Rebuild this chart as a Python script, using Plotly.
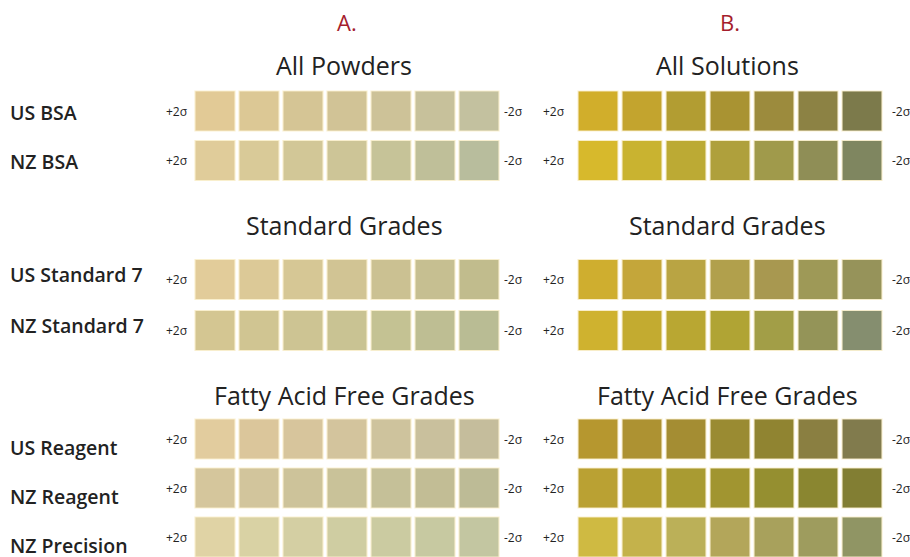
import plotly.graph_objects as go

# ---------------- data ----------------
panel_letters = ["A.", "B."]
section_titles_a = ["All Powders", "Standard Grades", "Fatty Acid Free Grades"]
section_titles_b = ["All Solutions", "Standard Grades", "Fatty Acid Free Grades"]
row_labels = [["US BSA", "NZ BSA"],
              ["US Standard 7", "NZ Standard 7"],
              ["US Reagent", "NZ Reagent", "NZ Precision"]]
sigma_left = "+2σ"
sigma_right = "-2σ"

# Panel A (powders) colours, per row, from +2σ to -2σ
colors_a = [
    ["#e2ca96", "#dcc895", "#d5c595", "#d1c396", "#cdc298", "#c7c19b", "#c3c19f"],
    ["#e0cc9a", "#d9ca98", "#d2c797", "#cdc597", "#c6c398", "#bfbf99", "#b8bd9d"],
    ["#e2cc9a", "#dcc997", "#d6c795", "#d1c494", "#cbc192", "#c6bf91", "#c1bc8d"],
    ["#d4c692", "#d0c592", "#cdc493", "#c9c393", "#c4c293", "#bebe93", "#b9bc94"],
    ["#e2cc9e", "#dbc69b", "#d7c59c", "#d3c49d", "#cec39d", "#c9c09d", "#c5bd9c"],
    ["#d5c69c", "#d2c59c", "#cdc39a", "#c9c299", "#c5c098", "#c2bd95", "#bdbb96"],
    ["#e0d3a5", "#d9d2a4", "#d4cfa3", "#cfcda2", "#cbcba1", "#c7c9a1", "#c3c6a1"],
]
# Panel B (solutions) colours
colors_b = [
    ["#d1ae2b", "#c3a42e", "#b29d32", "#a99332", "#9c8b3d", "#8c8244", "#7c7a4b"],
    ["#d7b92c", "#c9b330", "#bcaa34", "#afa03c", "#a09a4b", "#8f8e56", "#7f8660"],
    ["#cfae2f", "#c4a63a", "#b9a443", "#b1a04c", "#a89850", "#9e9957", "#96935a"],
    ["#cfb22f", "#c3ab30", "#b9a732", "#b0a434", "#a29e47", "#949458", "#858e6f"],
    ["#b6972f", "#ad9232", "#a48d33", "#9a8b32", "#908431", "#8a7f41", "#817b4d"],
    ["#baa133", "#b29e32", "#a99b32", "#a19530", "#958f30", "#8a8630", "#827e33"],
    ["#cfba42", "#c4b24b", "#bbb058", "#b3a65a", "#a8a15c", "#9e9c5e", "#909564"],
]

# ---------------- layout constants ----------------
W, H = 910, 557
FONT = "Open Sans"
section_top = [111, 279.5, 439]     # centre of first row of each section (px units of y axis)
row_pitch = [49.5, 51, 49]
label_shift = [1, -5, 8]
title_y = [65, 225, 395]
letter_y = 22
n_cols = 7
pitch_px = 44
a_left = 193
b_left = 576

row_y = []
row_sec = []
for s, labels in enumerate(row_labels):
    for r, _ in enumerate(labels):
        row_y.append(section_top[s] + r * row_pitch[s])
        row_sec.append(s)

fig = go.Figure()

for axis, colors in (("x", colors_a), ("x2", colors_b)):
    xs, ys, cs = [], [], []
    for ri, row in enumerate(colors):
        for ci, c in enumerate(row):
            xs.append(ci)
            ys.append(row_y[ri])
            cs.append(c)
    fig.add_trace(go.Scatter(
        x=xs, y=ys, mode="markers", xaxis=axis, yaxis="y",
        marker=dict(symbol="square", size=40, color=cs,
                    line=dict(width=1.2, color="rgba(250,240,205,0.9)")),
        hoverinfo="skip", showlegend=False))

ann = []
# panel letters & section titles
for axis, letter, titles in (("x", panel_letters[0], section_titles_a),
                             ("x2", panel_letters[1], section_titles_b)):
    ann.append(dict(x=3, y=letter_y, xref=axis, yref="y", text=letter, showarrow=False,
                    xshift=0, font=dict(family=FONT, size=22, color="#a51d2d")))
    for s, t in enumerate(titles):
        ann.append(dict(x=3, y=title_y[s], xref=axis, yref="y", text=t, showarrow=False,
                        xshift=-3, font=dict(family=FONT, size=25, color="#222222")))
    # sigma labels
    for ri, y in enumerate(row_y):
        ann.append(dict(x=-0.5, y=y, xref=axis, yref="y", text=sigma_left, showarrow=False,
                        xanchor="right", xshift=-3 if axis == "x" else -9,
                        font=dict(family=FONT, size=12, color="#222222")))
        ann.append(dict(x=n_cols - 0.5, y=y, xref=axis, yref="y", text=sigma_right, showarrow=False,
                        xanchor="left", xshift=1 if axis == "x" else 6,
                        font=dict(family=FONT, size=12, color="#222222")))

# row labels
flat_labels = [l for sec in row_labels for l in sec]
for ri, lab in enumerate(flat_labels):
    ann.append(dict(x=8 / W, y=row_y[ri] + label_shift[row_sec[ri]], xref="paper", yref="y",
                    text=lab, showarrow=False, xanchor="left",
                    font=dict(family=FONT, size=19.5, weight=600, color="#222222")))

hidden = dict(visible=False, showgrid=False, zeroline=False, fixedrange=True)
fig.update_layout(
    width=W, height=H,
    margin=dict(l=0, r=0, t=0, b=0),
    paper_bgcolor="white", plot_bgcolor="white",
    xaxis=dict(domain=[a_left / W, (a_left + n_cols * pitch_px) / W],
               range=[-0.5, n_cols - 0.5], anchor="y", **hidden),
    xaxis2=dict(domain=[b_left / W, (b_left + n_cols * pitch_px) / W],
                range=[-0.5, n_cols - 0.5], anchor="y", **hidden),
    yaxis=dict(domain=[0, 1], range=[H, 0], **hidden),
    annotations=ann,
)

fig.write_html("out.html", config={"displayModeBar": False},
               post_script="document.body.style.margin='0';document.body.style.overflow='hidden';")
